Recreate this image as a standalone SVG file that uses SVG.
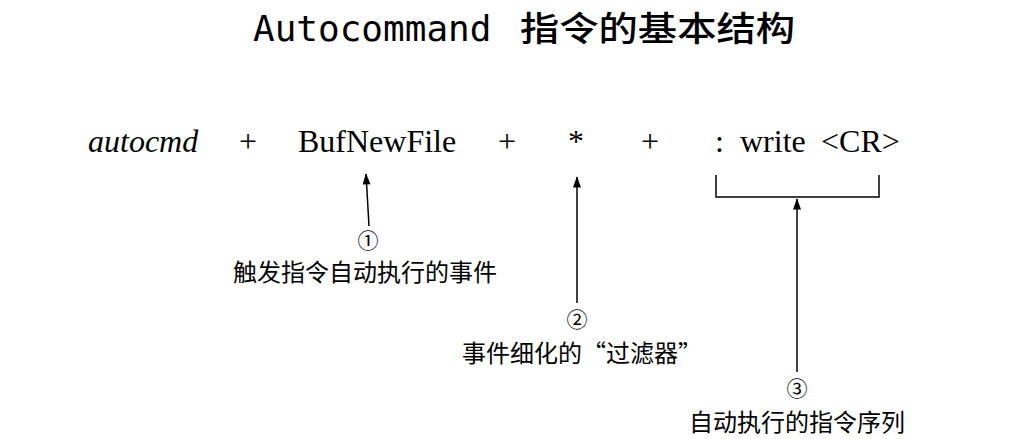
<svg xmlns="http://www.w3.org/2000/svg" width="1018" height="439" viewBox="0 0 1018 439">
<style>
.title{font-family:"DejaVu Sans Mono","Noto Sans CJK SC",monospace;font-size:36px;fill:#000}
.cjkt{font-family:"Noto Sans CJK SC",sans-serif;font-size:34px;font-weight:500;fill:#000}
.main{font-family:"Liberation Serif","Noto Sans CJK SC",serif;font-size:32px;fill:#000}
.lbl{font-family:"Noto Sans CJK SC",sans-serif;font-size:24px;fill:#000}
.num{font-family:"Noto Sans CJK SC",sans-serif;font-size:21px;fill:#000}
.ln{stroke:#000;stroke-width:1.5;fill:none}
</style>
<defs>
<marker id="ah" viewBox="0 0 14 10" refX="13" refY="5" markerWidth="13" markerHeight="8" markerUnits="userSpaceOnUse" orient="auto">
<path d="M0,0 L14,5 L0,10 Z" fill="#000"/>
</marker>
</defs>
<rect width="1018" height="439" fill="#fff"/>
<g id="title">
<text class="title" x="253" y="41">Autocommand</text>
<text class="cjkt" x="520" y="41" textLength="275" lengthAdjust="spacingAndGlyphs">指令的基本结构</text>
</g>
<g id="autocmd"><text class="main" x="88" y="152" font-style="italic">autocmd</text></g>
<g id="plus1"><text class="main" x="248" y="152" text-anchor="middle">+</text></g>
<g id="event"><text class="main" x="298" y="152">BufNewFile</text></g>
<g id="plus2"><text class="main" x="507" y="152" text-anchor="middle">+</text></g>
<g id="pattern"><text class="main" x="576" y="152" text-anchor="middle">*</text></g>
<g id="plus3"><text class="main" x="650" y="152" text-anchor="middle">+</text></g>
<g id="command"><text class="main" y="152"><tspan x="715">:</tspan><tspan x="740">write</tspan><tspan x="821">&lt;CR&gt;</tspan></text></g>
<g id="label1">
<text class="num" x="368" y="248" text-anchor="middle">①</text>
<text class="lbl" x="365" y="281" text-anchor="middle">触发指令自动执行的事件</text>
</g>
<g id="label2">
<text class="num" x="577" y="327" text-anchor="middle">②</text>
<text class="lbl" x="582" y="362" text-anchor="middle">事件细化的“过滤器”</text>
</g>
<g id="label3">
<text class="num" x="797" y="396" text-anchor="middle">③</text>
<text class="lbl" x="797" y="431" text-anchor="middle">自动执行的指令序列</text>
</g>
<g id="connectors">
<path class="ln" d="M716,175 V197 H879 V175"/>
<line class="ln" x1="369" y1="226" x2="366" y2="174" marker-end="url(#ah)"/>
<line class="ln" x1="577" y1="303" x2="577" y2="177" marker-end="url(#ah)"/>
<line class="ln" x1="797" y1="372" x2="797" y2="199" marker-end="url(#ah)"/>
</g>
</svg>
